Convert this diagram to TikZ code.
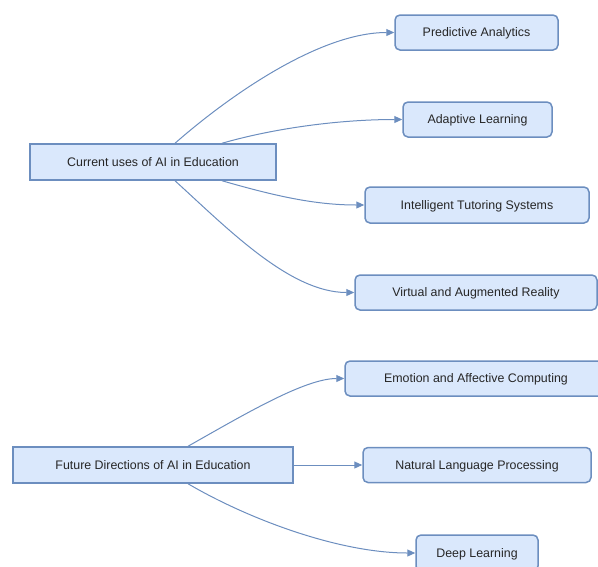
\documentclass[tikz,border=0pt]{standalone}
\usepackage{fontspec}
\setmainfont{Liberation Sans}
\usetikzlibrary{arrows.meta}
\definecolor{boxfill}{HTML}{DAE8FC}
\definecolor{boxline}{HTML}{6C8EBF}
\tikzset{
  hub/.style={draw=boxline, fill=boxfill, line width=1.5pt, inner sep=0pt,
    text height=8.9pt, text depth=0pt,
    font=\fontsize{12.4}{14}\selectfont, text=black!85},
  leaf/.style={hub, rounded corners=5pt},
  link/.style={draw=boxline, line width=1pt,
    -{Triangle[length=8pt,width=7pt]}}
}
\begin{document}
\begin{tikzpicture}[x=1pt,y=-1pt]
  \useasboundingbox (0,0) rectangle (598,566);

  % two root topics
  \node[hub, minimum width=246pt, minimum height=36pt] (cur) at (153,162) {Current uses of AI in Education};
  \node[hub, minimum width=280pt, minimum height=36pt] (fut) at (153,465) {Future Directions of AI in Education};

  % current uses
  \node[leaf, minimum width=163pt, minimum height=35pt] (pa)  at (476.5,32.5) {Predictive Analytics};
  \node[leaf, minimum width=149pt, minimum height=35pt] (al)  at (477.5,119.5) {Adaptive Learning};
  \node[leaf, minimum width=224pt, minimum height=36pt] (its) at (477,205) {Intelligent Tutoring Systems};
  \node[leaf, minimum width=242pt, minimum height=35pt] (var) at (476,292.5) {Virtual and Augmented Reality};

  % future directions
  \node[leaf, minimum width=262pt, minimum height=35pt] (emo)  at (476,378.5) {Emotion and Affective Computing};
  \node[leaf, minimum width=228pt, minimum height=35pt] (nlp)  at (477,465) {Natural Language Processing};
  \node[leaf, minimum width=122pt, minimum height=36pt] (deep) at (477,553) {Deep Learning};

  % connectors from the first root
  \coordinate (c1) at ([xshift=22pt]cur.north);
  \coordinate (c2) at ([xshift=69pt]cur.north);
  \coordinate (c3) at ([xshift=69pt]cur.south);
  \coordinate (c4) at ([xshift=22pt]cur.south);
  \draw[link] (c1) .. controls (230,95) and (320,32.5) .. (pa.west);
  \draw[link] (c2) .. controls (275,128) and (340,119.5) .. (al.west);
  \draw[link] (c3) .. controls (275,196) and (315,205) .. (its.west);
  \draw[link] (c4) .. controls (228,229) and (290,292.5) .. (var.west);

  % connectors from the second root
  \coordinate (f1) at ([xshift=35pt]fut.north);
  \coordinate (f2) at ([xshift=35pt]fut.south);
  \draw[link] (f1) .. controls (245,414) and (305,378.5) .. (emo.west);
  \draw[link] (fut.east) -- (nlp.west);
  \draw[link] (f2) .. controls (250,520) and (340,553) .. (deep.west);
\end{tikzpicture}
\end{document}
